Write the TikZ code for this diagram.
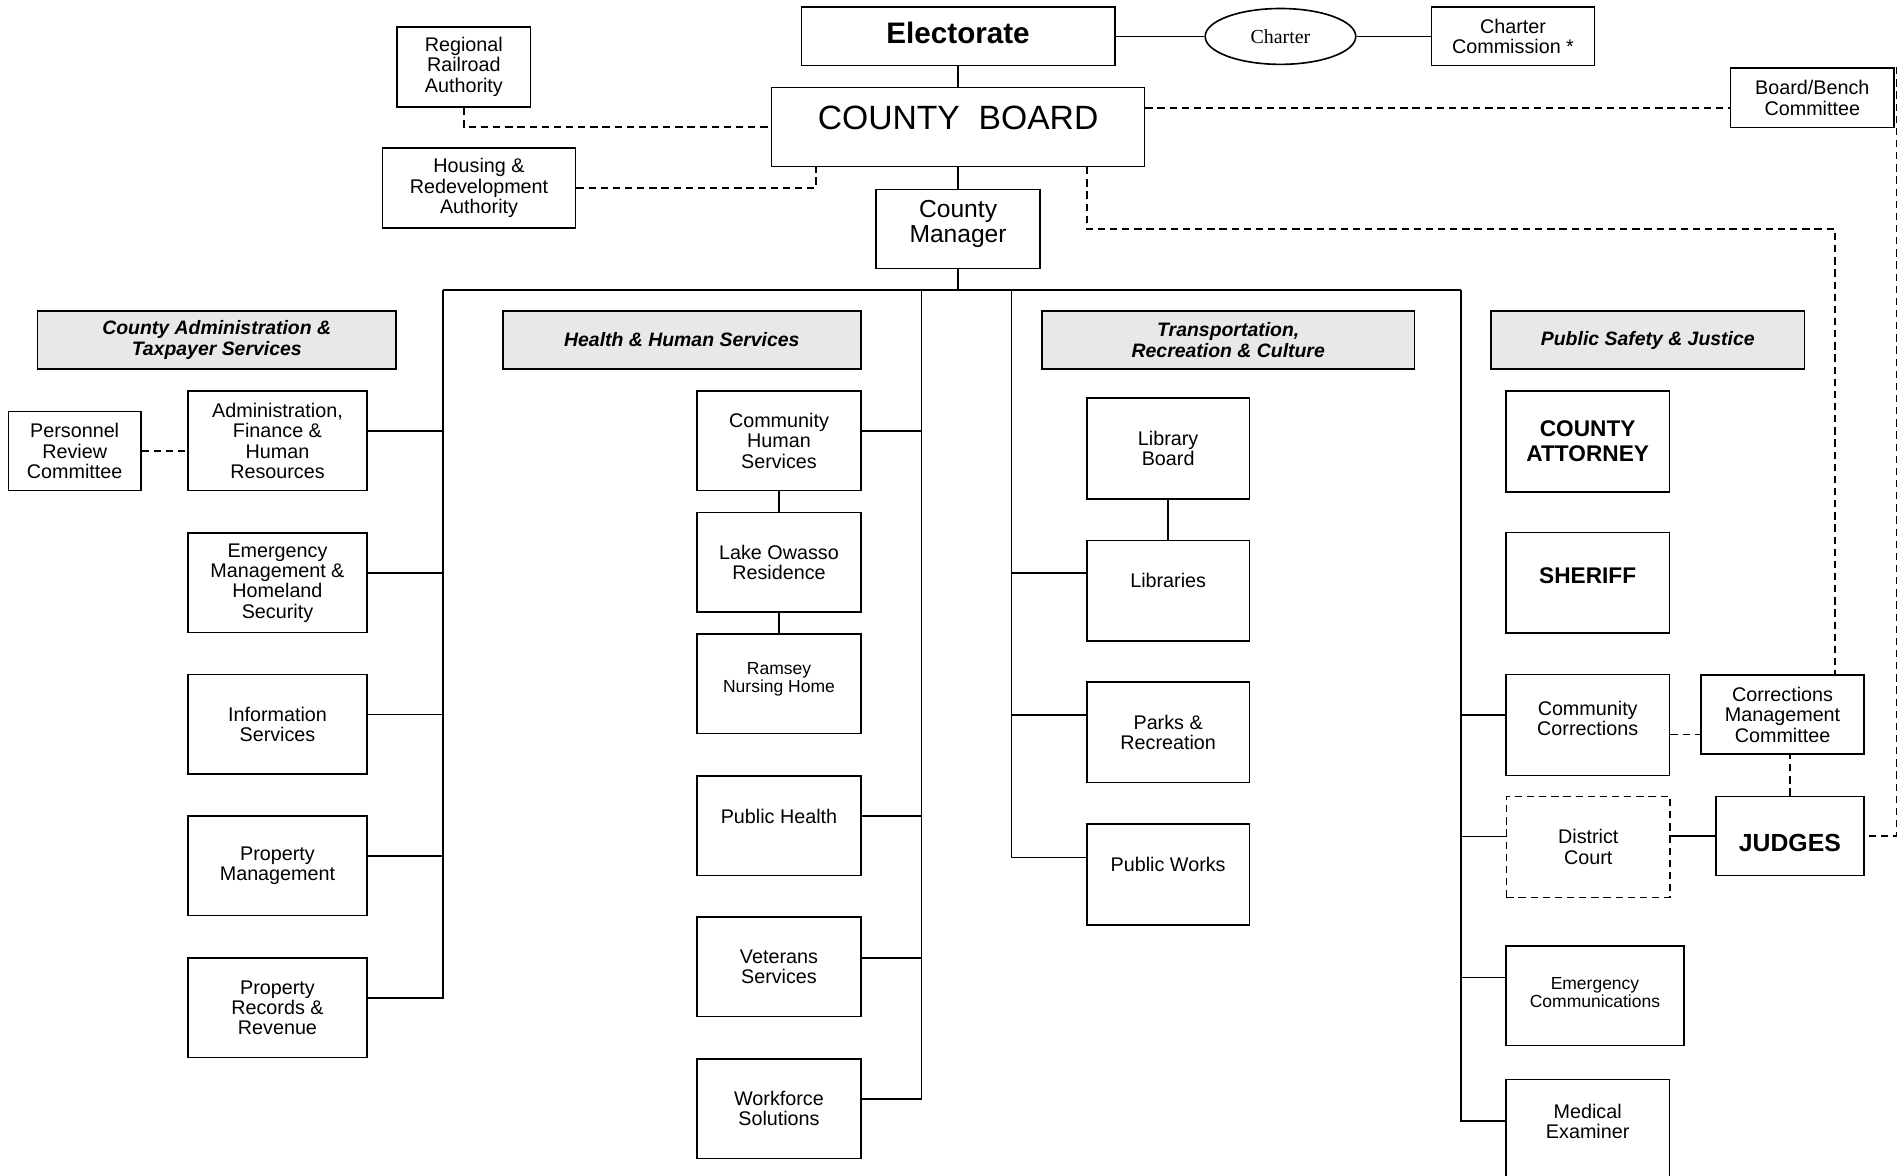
\documentclass[tikz,border=0pt]{standalone}
\usepackage{fontspec}
\setmainfont{Liberation Sans}
\newfontfamily\charterfont{Liberation Serif}
\usetikzlibrary{shapes.geometric}
\definecolor{headgray}{RGB}{232,232,232}
\tikzset{
  unit/.style={draw, line width=1pt, align=center, inner sep=0pt,
    font=\fontsize{12.2}{12.6}\selectfont},
  wh/.style 2 args={minimum width=#1*0.75pt, minimum height=#2*0.75pt},
  head/.style={unit, fill=headgray, font=\fontsize{12}{13.5}\selectfont\bfseries\itshape},
  smalltext/.style={font=\fontsize{10.8}{11.3}\selectfont},
  lift/.style={text depth=#1},
  advisory/.style={dash pattern=on 4.5pt off 3pt},
}
\begin{document}
\begin{tikzpicture}[x=0.75pt,y=0.75pt,yscale=-1,line width=0.9pt]
	\useasboundingbox (0,0) rectangle (1568,968);

	% top of the chart
	\node[unit, wh={258}{48}, font=\fontsize{18.3}{20}\selectfont\bfseries, lift=4.5pt] (elect) at (789,30) {Electorate};
	\node[draw, ellipse, line width=1pt, inner sep=0pt, minimum width=124*0.75pt, minimum height=46*0.75pt,
	  font=\charterfont\fontsize{12.3}{14}\selectfont] (charter) at (1054.5,30) {Charter};
	\node[unit, wh={134}{48}] (charcom) at (1246,30) {Charter\\Commission *};
	\node[unit, wh={307}{65}, font=\fontsize{20.8}{22}\selectfont, lift=11.25pt] (board) at (789,104.5) {COUNTY~~BOARD};
	\node[unit, wh={110}{66}] (rail) at (382,55) {Regional\\Railroad\\Authority};
	\node[unit, wh={159}{66}] (hra) at (394.5,155) {Housing \&\\Redevelopment\\Authority};
	\node[unit, wh={135}{49}] (bench) at (1492.5,80.5) {Board/Bench\\Committee};
	\node[unit, wh={135}{65}, font=\fontsize{15.2}{15.75}\selectfont, lift=9.2pt] (mgr) at (789,188.5) {County\\Manager};

	% department headings
	\node[head, wh={295}{48}] (hdadm) at (178.5,280) {County Administration \&\\Taxpayer Services};
	\node[head, wh={295}{48}] (hdhhs) at (561.5,280) {Health \& Human Services};
	\node[head, wh={307}{48}] (hdtrc) at (1011.5,280) {Transportation,\\Recreation \& Culture};
	\node[head, wh={258}{48}] (hdpsj) at (1357,280) {Public Safety \& Justice};

	% County Administration & Taxpayer Services
	\node[unit, wh={147}{82}] (adm) at (228.5,363) {Administration,\\Finance \&\\Human\\Resources};
	\node[unit, wh={109}{65}] (prc) at (61.5,371.5) {Personnel\\Review\\Committee};
	\node[unit, wh={147}{82}] (emg) at (228.5,480) {Emergency\\Management \&\\Homeland\\Security};
	\node[unit, wh={147}{82}] (info) at (228.5,596.5) {Information\\Services};
	\node[unit, wh={147}{82}] (pmgt) at (228.5,713) {Property\\Management};
	\node[unit, wh={147}{82}] (prec) at (228.5,830) {Property\\Records \&\\Revenue};

	% Health & Human Services
	\node[unit, wh={135}{82}] (chs) at (641.5,363) {Community\\Human\\Services};
	\node[unit, wh={135}{82}] (lor) at (641.5,463) {Lake Owasso\\Residence};
	\node[unit, wh={135}{82}, smalltext, lift=7.5pt] (rnh) at (641.5,563) {Ramsey\\Nursing Home};
	\node[unit, wh={135}{82}, lift=12pt] (ph) at (641.5,680) {Public Health};
	\node[unit, wh={135}{82}] (vet) at (641.5,796) {Veterans\\Services};
	\node[unit, wh={135}{82}] (wfs) at (641.5,913) {Workforce\\Solutions};

	% Transportation, Recreation & Culture
	\node[unit, wh={134}{83}] (libbd) at (962,369.5) {Library\\Board};
	\node[unit, wh={134}{83}, lift=12.75pt] (libs) at (962,486.5) {Libraries};
	\node[unit, wh={134}{83}] (parks) at (962,603) {Parks \&\\Recreation};
	\node[unit, wh={134}{83}, lift=12pt] (pw) at (962,720) {Public Works};

	% Public Safety & Justice
	\node[unit, wh={135}{83}, font=\fontsize{14}{15.75}\selectfont\bfseries] (atty) at (1307.5,363.5) {COUNTY\\ATTORNEY};
	\node[unit, wh={135}{83}, font=\fontsize{14}{15.75}\selectfont\bfseries, lift=9pt] (sher) at (1307.5,480) {SHERIFF};
	\node[unit, wh={135}{83}, lift=8.2pt] (cc) at (1307.5,597) {Community\\Corrections};
	\node[unit, wh={135}{83}, advisory] (dc) at (1308,697.5) {District\\Court};
	\node[unit, wh={147}{82}, smalltext, lift=3.8pt] (ecomm) at (1313.5,820) {Emergency\\Communications};
	\node[unit, wh={135}{86}, lift=12.75pt] (medx) at (1307.5,932) {Medical\\Examiner};
	\node[unit, wh={134}{65}] (cmc) at (1468,588.5) {Corrections\\Management\\Committee};
	\node[unit, wh={122}{65}, font=\fontsize{15.3}{16}\selectfont\bfseries, text height=19pt] (judges) at (1474,688.5) {JUDGES};

	%Straight Lines
	\coordinate (busA) at (365,239);
	\coordinate (busB) at (759,239);
	\coordinate (busC) at (833,239);
	\coordinate (busD) at (1203,239);
	\draw (elect.east) -- (charter.west);
	\draw (charter.east) -- (charcom.west);
	\draw (elect.south) -- (board.north);
	\draw (board.south) -- (mgr.north);
	\draw (mgr.south) -- (mgr.south |- busA);
	\draw (busA) -- (busD);
	\foreach \n in {adm,emg,info,pmgt,prec}
	  \draw (busA) |- ([yshift=-6pt]\n.east);
	\foreach \n/\s in {chs/-6pt,ph/-6pt,vet/-5.25pt,wfs/-6pt}
	  \draw (busB) |- ([yshift=\s]\n.east);
	\foreach \n/\s in {libs/-10.9pt,parks/-10.5pt,pw/-10.5pt}
	  \draw (busC) |- ([yshift=\s]\n.west);
	\foreach \n/\s in {cc/-6pt,dc/-6.4pt,ecomm/-11.25pt,medx/-6.75pt}
	  \draw (busD) |- ([yshift=\s]\n.west);
	\draw (chs) -- (lor);
	\draw (lor) -- (rnh);
	\draw (libbd) -- (libs);
	\draw (dc.east |- judges.west) -- (judges.west);

	%Dashed Lines
	\coordinate (benchIn) at ([yshift=6.4pt]bench.west);
	\coordinate (boardOut) at ([xshift=-36pt]board.south east);
	\coordinate (cmcIn) at ([xshift=32.25pt]cmc.north);
	\coordinate (ccOut) at ([yshift=6pt]cc.east);
	\draw[advisory] (rail.south) |- (board.west);
	\draw[advisory] (hra.east) -| ([xshift=27.75pt]board.south west);
	\draw[advisory] (board.east |- benchIn) -- (benchIn);
	\draw[advisory] ([xshift=1pt]bench.north east) |- (judges.east);
	\draw[advisory] (boardOut) -- ++(0,51) -| (cmcIn);
	\draw[advisory] (prc.east) -- (prc.east -| adm.west);
	\draw[advisory] (ccOut) -- (ccOut -| cmc.west);
	\draw[advisory] (judges.north) -- (judges.north |- cmc.south);
\end{tikzpicture}
\end{document}
